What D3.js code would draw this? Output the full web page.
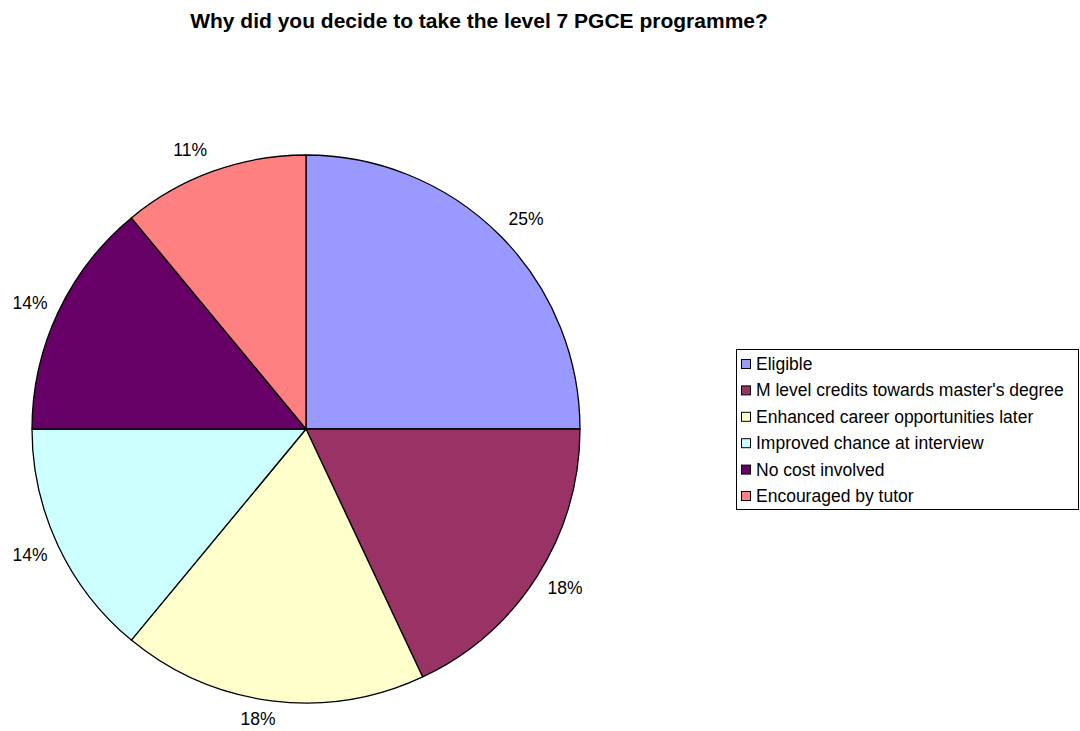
<!DOCTYPE html>
<html>
<head>
<meta charset="utf-8">
<script src="https://cdn.jsdelivr.net/npm/d3@7"></script>
<style>
  html, body { margin: 0; padding: 0; background: #fff; }
  svg { display: block; font-family: "Liberation Sans", Arial, sans-serif; }
</style>
</head>
<body>
<svg id="chart" width="1080" height="731"></svg>
<script>
// Survey answers and their shares (percent)
const categories = [
  "Eligible",
  "M level credits towards master's degree",
  "Enhanced career opportunities later",
  "Improved chance at interview",
  "No cost involved",
  "Encouraged by tutor"
];
const shares = [25, 18, 18, 14, 14, 11];
const sliceColors = ["#9999FF", "#993366", "#FFFFCC", "#CCFFFF", "#660066", "#FF8080"];
const chartTitle = "Why did you decide to take the level 7 PGCE programme?";

const svg = d3.select("#chart");

const rows = categories.map((c, i) => ({ name: c, value: shares[i], color: sliceColors[i] }));

// Title
svg.append("text")
  .attr("x", 479)
  .attr("y", 28)
  .attr("text-anchor", "middle")
  .attr("font-size", 21)
  .attr("font-weight", "bold")
  .attr("fill", "#000")
  .text(chartTitle);

// Pie
const cx = 306, cy = 429, radius = 274;
const pie = d3.pie().value(d => d.value).sort(null);
const arc = d3.arc().innerRadius(0).outerRadius(radius);
const arcs = pie(rows);

const g = svg.append("g").attr("transform", `translate(${cx},${cy})`);
g.selectAll("path.slice")
  .data(arcs)
  .enter().append("path")
  .attr("class", "slice")
  .attr("d", arc)
  .attr("fill", d => d.data.color)
  .attr("stroke", "#000")
  .attr("stroke-width", 1.3)
  .attr("stroke-linejoin", "round");

// Percentage labels placed just outside the rim, pushed out by their half width
function labelPos(d) {
  const a = (d.startAngle + d.endAngle) / 2;
  const dx = Math.sin(a), dy = -Math.cos(a);
  const x = dx * (radius + 9) + Math.sign(dx) * 20 * Math.min(1, Math.abs(dx) / 0.2);
  const y = Math.min(dy * (radius + 23), 731 - cy - 12);
  return [x, y];
}
g.selectAll("text.pct")
  .data(arcs)
  .enter().append("text")
  .attr("class", "pct")
  .attr("font-size", 17.5)
  .attr("fill", "#000")
  .attr("text-anchor", "middle")
  .attr("dominant-baseline", "central")
  .attr("x", d => labelPos(d)[0])
  .attr("y", d => labelPos(d)[1])
  .text(d => d3.format(".0f")(d.data.value) + "%");

// Legend
const legX = 736, legY = 349, legW = 342, legH = 160;
const leg = svg.append("g");
leg.append("rect")
  .attr("x", legX + 0.5).attr("y", legY + 0.5)
  .attr("width", legW).attr("height", legH)
  .attr("fill", "#fff").attr("stroke", "#000").attr("stroke-width", 1);

const rowY = d3.scalePoint().domain(categories).range([legY + 15, legY + 147]);
const item = leg.selectAll("g.item")
  .data(rows)
  .enter().append("g")
  .attr("class", "item")
  .attr("transform", d => `translate(${legX + 5},${rowY(d.name)})`);
item.append("rect")
  .attr("x", 0.5).attr("y", -4.5)
  .attr("width", 9).attr("height", 9)
  .attr("fill", d => d.color)
  .attr("stroke", "#000").attr("stroke-width", 1);
item.append("text")
  .attr("x", 15)
  .attr("y", 0)
  .attr("dominant-baseline", "central")
  .attr("font-size", 17.5)
  .attr("fill", "#000")
  .text(d => d.name);
</script>
</body>
</html>
